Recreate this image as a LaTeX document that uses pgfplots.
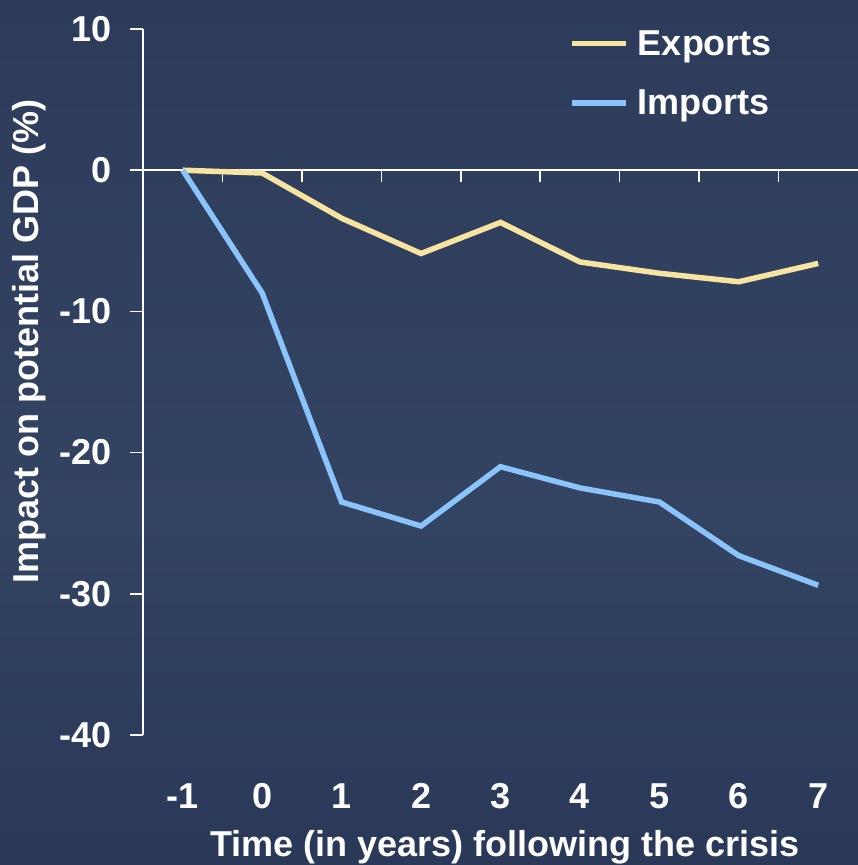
\documentclass[border=0pt]{standalone}
\usepackage{pgfplots}
\pgfplotsset{compat=1.18}
\usepackage{fontspec}
\setmainfont{Liberation Sans}

\pgfdeclareverticalshading{slidebg}{100bp}{%
  rgb(0bp)=(0.106,0.153,0.278);
  rgb(12bp)=(0.140,0.195,0.320);
  rgb(45bp)=(0.200,0.263,0.384);
  rgb(70bp)=(0.180,0.240,0.360);
  rgb(92bp)=(0.150,0.200,0.325);
  rgb(100bp)=(0.141,0.192,0.318)}

\definecolor{expcol}{RGB}{247,228,160}
\definecolor{impcol}{RGB}{138,196,250}

\pgfplotstableread{
year exports imports
-1   0.0    0.0
 0  -0.2   -8.7
 1  -3.4  -23.5
 2  -5.9  -25.2
 3  -3.7  -21.0
 4  -6.5  -22.5
 5  -7.3  -23.5
 6  -7.9  -27.3
 7  -6.6  -29.4
}\tradedata

\begin{document}
\begin{tikzpicture}
% slide background
\shade[shading=slidebg] (0pt,0pt) rectangle (858pt,865pt);

\pgfplotsset{
  commonaxis/.style={
    scale only axis,
    width=715pt, height=706pt,
    at={(143pt,130pt)}, anchor=south west,
    xmin=-1.5, xmax=7.5,
    ymin=-40, ymax=10,
  },
}

% zero line with category separators
\begin{axis}[
  commonaxis,
  axis y line=none,
  axis x line=middle,
  axis line style={-, white, line width=1.6pt},
  xtick={-0.5,0.5,...,6.5},
  xticklabels={},
  ytick=\empty,
  tick align=outside,
  major tick length=12pt,
  x tick style={white, line width=1.6pt},
]
\end{axis}

% main plot
\begin{axis}[
  commonaxis,
  axis y line*=left,
  axis x line*=bottom,
  x axis line style={draw=none},
  y axis line style={-, white, line width=1.6pt},
  xtick={-1,0,...,7},
  x tick style={draw=none},
  ytick={-40,-30,...,10},
  y tick style={white, line width=1.6pt},
  tick align=outside,
  major tick length=13pt,
  /pgf/number format/assume math mode=true,
  tick label style={font=\fontsize{36}{40}\selectfont\bfseries, text=white},
  xticklabel style={anchor=base, yshift=-60pt},
  yticklabel style={xshift=-15pt},
  ylabel={Impact on potential GDP (\%)},
  xlabel={Time (in years) following the crisis},
  label style={font=\fontsize{36}{40}\selectfont\bfseries, text=white},
  ylabel style={at={(axis description cs:-0.159,0.557)}, anchor=center},
  xlabel style={at={(axis description cs:0.506,-0.159)}, anchor=center},
  legend style={
    at={(axis description cs:0.592,1.004)}, anchor=north west,
    draw=none, fill=none, text=white,
    font=\fontsize{36}{40}\selectfont\bfseries,
    row sep=29pt,
  },
  legend cell align=left,
  % legend line plus a small gap before the entry text
  legend image code/.code={\draw[#1] (0pt,0pt) -- (54pt,0pt); \path (61pt,0pt);},
  clip=false,
]
\addplot[expcol, line width=5.5pt] table[x=year, y=exports] {\tradedata};
\addlegendentry{Exports}
\addplot[impcol, line width=5.5pt] table[x=year, y=imports] {\tradedata};
\addlegendentry{Imports}
\end{axis}

\pgfresetboundingbox
\path[use as bounding box] (0pt,0pt) rectangle (858pt,865pt);
\end{tikzpicture}
\end{document}
